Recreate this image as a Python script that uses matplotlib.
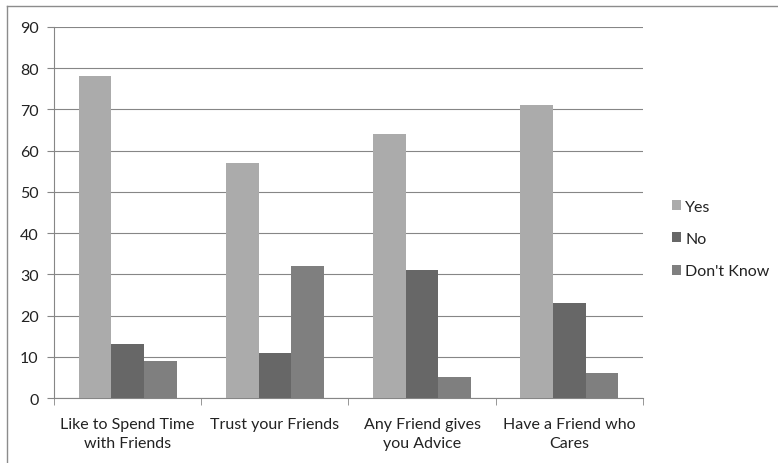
import numpy as np
import matplotlib.pyplot as plt
from matplotlib.lines import Line2D

plt.rcParams['font.family'] = ['Lato', 'DejaVu Sans']

categories = ['Like to Spend Time\nwith Friends', 'Trust your Friends',
              'Any Friend gives\nyou Advice', 'Have a Friend who\nCares']
series_names = ['Yes', 'No', "Don't Know"]
yes = [78, 57, 64, 71]
no = [13, 11, 31, 23]
dont_know = [9, 32, 5, 6]

colors = ['#ababab', '#676767', '#7f7f7f']
axis_grey = '#868686'
text_col = '#222222'

fig = plt.figure(figsize=(7.78, 4.64), dpi=100)
# chart frame: only the top and left edges fall inside the image
fig.lines.append(Line2D([0.009, 1.0], [0.985, 0.985], transform=fig.transFigure,
                        color='#8c8c8c', linewidth=1))
fig.lines.append(Line2D([0.009, 0.009], [0.0, 0.985], transform=fig.transFigure,
                        color='#8c8c8c', linewidth=1))
ax = fig.add_axes([0.0694, 0.140, 0.757, 0.800])

x = np.arange(len(categories))
width = 0.222
for i, (vals, name) in enumerate(zip([yes, no, dont_know], series_names)):
    ax.bar(x + (i - 1) * width, vals, width, color=colors[i], label=name,
           edgecolor='none', zorder=3)

ax.set_xlim(-0.5, len(categories) - 0.5)
ax.set_ylim(0, 90)
ax.set_yticks(range(0, 91, 10))
ax.yaxis.grid(True, color=axis_grey, linewidth=0.8, zorder=0)

ax.set_xticks(x)
ax.set_xticklabels(categories, fontsize=11.5, color=text_col, linespacing=1.45)
ax.tick_params(axis='x', length=0, pad=14)
ax.set_xticks(np.arange(-0.5, len(categories)), minor=True)
ax.tick_params(axis='x', which='minor', length=5, color=axis_grey)
ax.tick_params(axis='y', length=5, color=axis_grey, labelsize=11.5, labelcolor=text_col, pad=6)

for side in ['top', 'right']:
    ax.spines[side].set_visible(False)
for side in ['left', 'bottom']:
    ax.spines[side].set_color(axis_grey)

leg = fig.legend(loc='center left', bbox_to_anchor=(0.853, 0.483), frameon=False,
                 fontsize=11.5, handlelength=0.6, handleheight=0.6, handletextpad=0.25,
                 labelspacing=1.15, borderpad=0)
for t in leg.get_texts():
    t.set_color(text_col)

fig.savefig('out.png', dpi=100)
